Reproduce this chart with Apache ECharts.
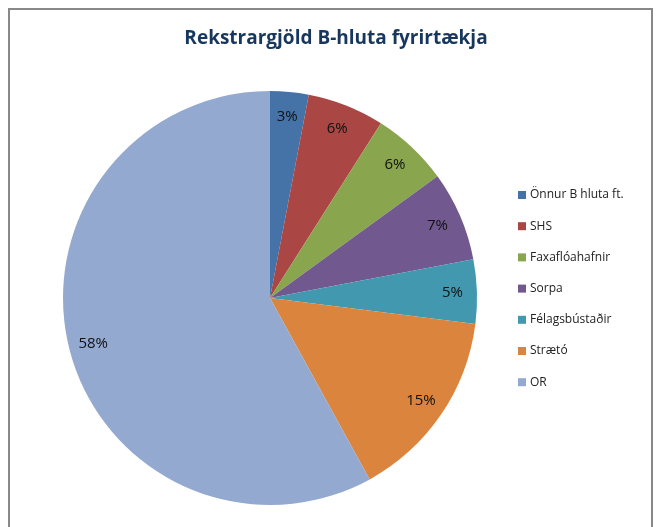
<!DOCTYPE html>
<html>
<head>
<meta charset="utf-8">
<script src="https://cdn.jsdelivr.net/npm/echarts@6/dist/echarts.min.js"></script>
<style>
  html, body { margin: 0; padding: 0; background: #fff; }
  #main { width: 660px; height: 527px; }
</style>
</head>
<body>
<div id="main"></div>
<script>
var categories = ['Önnur B hluta ft.', 'SHS', 'Faxaflóahafnir', 'Sorpa', 'Félagsbústaðir', 'Strætó', 'OR'];
var shares = [3, 6, 6, 7, 5, 15, 58];
var colors = ['#4572A7', '#AA4643', '#89A54E', '#71588F', '#4198AF', '#DB843D', '#93A9CF'];

function buildData() {
    var res = [];
    for (var i = 0; i < categories.length; i++) {
        res.push({ name: categories[i], value: shares[i] });
    }
    return res;
}

var dom = document.getElementById('main');
var myChart = echarts.init(dom);
var option = {
    animation: false,
    color: colors,
    title: {
        text: 'Rekstrargjöld B-hluta fyrirtækja',
        left: 331,
        textAlign: 'center',
        top: 24,
        textStyle: {
            color: '#17375E',
            fontFamily: 'Open Sans',
            fontWeight: 'bold',
            fontSize: 19
        }
    },
    legend: {
        orient: 'vertical',
        left: 513,
        top: 183,
        icon: 'rect',
        itemWidth: 8,
        itemHeight: 8,
        itemGap: 17.2,
        data: categories,
        textStyle: {
            color: '#222',
            fontFamily: 'Open Sans',
            fontSize: 12,
            lineHeight: 14,
            padding: [0, 0, 0, -1]
        }
    },
    graphic: [{
        type: 'rect',
        shape: { x: 9, y: 9, width: 643, height: 540 },
        style: { fill: 'none', stroke: '#888', lineWidth: 2 },
        silent: true
    }],
    series: [
        {
            type: 'pie',
            center: [270, 298],
            radius: [0, 207],
            startAngle: 90,
            clockwise: true,
            label: { show: false },
            labelLine: { show: false },
            emphasis: { disabled: true },
            data: buildData()
        },
        {
            // transparent ring only used to place the labels near the rim
            type: 'pie',
            center: [270, 298],
            radius: [152, 207],
            startAngle: 90,
            clockwise: true,
            silent: true,
            legendHoverLink: false,
            itemStyle: { color: 'rgba(0,0,0,0)' },
            label: {
                show: true,
                position: 'inside',
                formatter: function (p) { return p.value + '%'; },
                color: '#111',
                fontFamily: 'Open Sans',
                fontSize: 15
            },
            labelLine: { show: false },
            data: buildData()
        }
    ]
};
myChart.setOption(option, true);
</script>
</body>
</html>
